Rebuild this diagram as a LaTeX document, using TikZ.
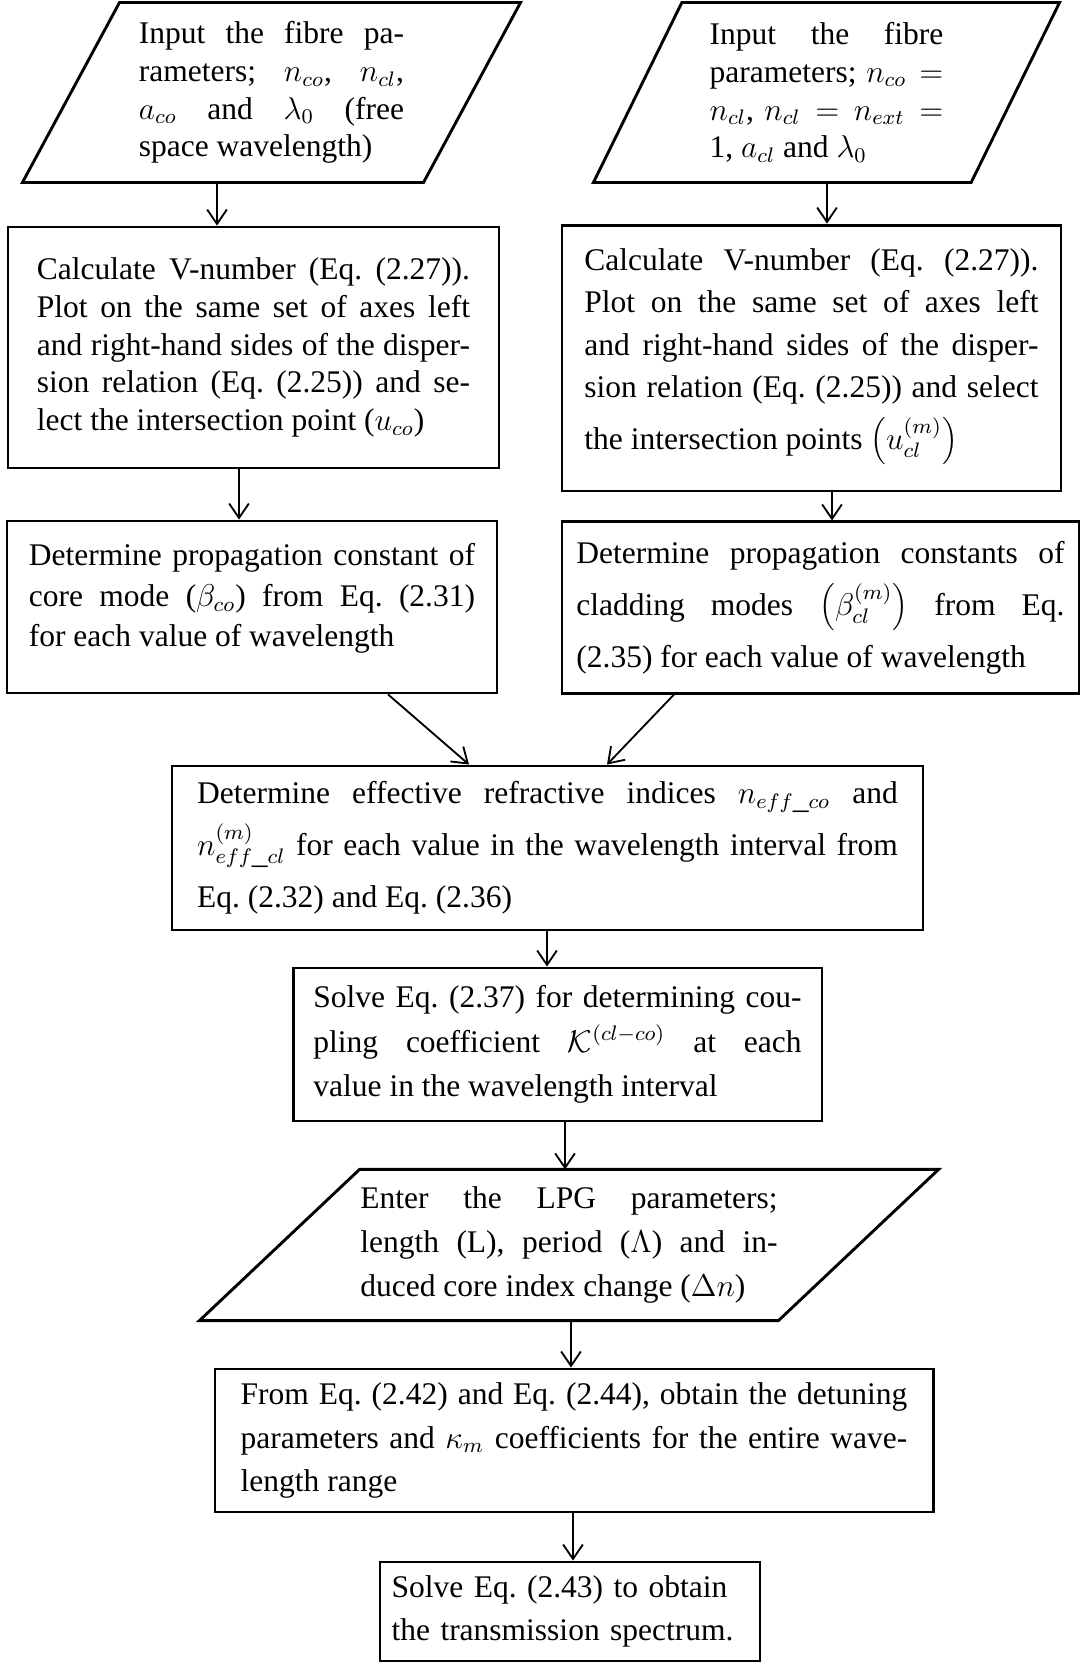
\documentclass[tikz,border=0pt]{standalone}
\usepackage{fontspec}
\setmainfont{Liberation Serif}
\usetikzlibrary{positioning}
\usetikzlibrary{arrows.meta}
\frenchspacing

\begin{document}
\begin{tikzpicture}[
x=0.381pt, y=-0.381pt,
procbox/.style={rectangle, draw=black, line width=1.1pt, align=justify, inner sep=0pt},
iobox/.style={rectangle, draw=none, align=justify, inner sep=0pt},
ioline/.style={draw=black, line width=1.1pt, line join=miter},
lsp/.style={font=\fontsize{12}{#1}\selectfont},
flow/.style={-{Straight Barb[length=5.5pt,width=7.5pt]}, line width=0.7pt},
]
\useasboundingbox (0,0) rectangle (1081,1663);

%Nodes
\node[iobox, text width=101pt, minimum width=189.4pt, minimum height=68.2pt, lsp=14.4pt] (inputcore) at (271.5,92.5) {Input the fibre pa-\linebreak rameters; $n_{co}$, $n_{cl}$,\linebreak $a_{co}$ and $\lambda_0$ (free\linebreak space wavelength)};
\node[iobox, text width=89pt, minimum width=177.2pt, minimum height=68.2pt, lsp=14.4pt] (inputclad) at (826.5,92.5) {Input the fibre\linebreak parameters; $n_{co}=$\linebreak $n_{cl}$, $n_{cl}=n_{ext}=$\linebreak 1, $a_{cl}$ and $\lambda_0$};
\node[procbox, text width=165pt, minimum width=187.1pt, minimum height=91.8pt, lsp=14.4pt] (vnumbercore) at (253.5,347.5) {Calculate V-number (Eq. (2.27)).\linebreak Plot on the same set of axes left\linebreak and right-hand sides of the disper-\linebreak sion relation (Eq. (2.25)) and se-\linebreak lect the intersection point ($u_{co}$)};
\node[procbox, text width=173pt, minimum width=190.1pt, minimum height=101.3pt, lsp=16.2pt] (vnumberclad) at (811.5,358) {Calculate V-number (Eq. (2.27)).\linebreak Plot on the same set of axes left\linebreak and right-hand sides of the disper-\linebreak sion relation (Eq. (2.25)) and select\linebreak the intersection points $\left(u_{cl}^{(m)}\right)$\rule[-7pt]{0pt}{23pt}};
\node[procbox, text width=170pt, minimum width=186.7pt, minimum height=65.5pt, lsp=15.5pt] (betacore) at (252,607) {Determine propagation constant of\linebreak core mode ($\beta_{co}$) from Eq. (2.31)\linebreak for each value of wavelength\rule[-9pt]{0pt}{9pt}};
\node[procbox, text width=186pt, minimum width=197pt, minimum height=65.2pt, lsp=19.8pt] (betaclad) at (820.5,607.5) {Determine propagation constants of\linebreak cladding modes $\left(\beta_{cl}^{(m)}\right)$ from Eq.\linebreak (2.35) for each value of wavelength};
\node[procbox, text width=267pt, minimum width=286.1pt, minimum height=62.5pt, lsp=19.8pt] (effindices) at (547.5,848) {Determine effective refractive indices $n_{eff\_co}$ and\linebreak $n_{eff\_cl}^{(m)}$ for each value in the wavelength interval from\linebreak Eq. (2.32) and Eq. (2.36)};
\node[procbox, text width=186pt, minimum width=201.5pt, minimum height=58.3pt, lsp=17pt] (coupling) at (557.5,1044.5) {Solve Eq. (2.37) for determining cou-\linebreak pling coefficient $\mathcal{K}^{(cl-co)}$ at each\linebreak value in the wavelength interval};
\node[iobox, text width=159pt, minimum width=281.2pt, minimum height=57.2pt, lsp=16.8pt] (lpgparams) at (569,1245) {Enter the LPG parameters;\linebreak length (L), period ($\Lambda$) and in-\linebreak duced core index change ($\Delta n$)};
\node[procbox, text width=254pt, minimum width=273.6pt, minimum height=54.5pt, lsp=16.6pt] (detuning) at (574,1440.5) {From Eq. (2.42) and Eq. (2.44), obtain the detuning\linebreak parameters and $\kappa_m$ coefficients for the entire wave-\linebreak length range};
\node[procbox, align=left, text width=136pt, minimum width=144.8pt, minimum height=37.7pt, lsp=16.2pt] (spectrum) at (570,1611.5) {Solve Eq. (2.43) to obtain\\the transmission spectrum.};

%Outlines of the input boxes
\draw[ioline] ([xshift=37pt]inputcore.north west) -- (inputcore.north east) -- ([xshift=-37pt]inputcore.south east) -- (inputcore.south west) -- cycle;
\draw[ioline] ([xshift=33.7pt]inputclad.north west) -- (inputclad.north east) -- ([xshift=-33.7pt]inputclad.south east) -- (inputclad.south west) -- cycle;
\draw[ioline] ([xshift=61pt]lpgparams.north west) -- (lpgparams.north east) -- ([xshift=-61pt]lpgparams.south east) -- (lpgparams.south west) -- cycle;

%Guides
\coordinate (gcore1) at (217,0);
\coordinate (gclad1) at (827,0);
\coordinate (gcore2) at (239,0);
\coordinate (gclad2) at (832,0);
\coordinate (gcore3) at (388,0);
\coordinate (gcore4) at (469,0);
\coordinate (gclad3) at (674,0);
\coordinate (gclad4) at (607,0);
\coordinate (gmid1) at (547,0);
\coordinate (gmid2) at (565,0);
\coordinate (gmid3) at (571,0);
\coordinate (gmid4) at (573,0);

%Lines
\draw[flow] (inputcore.south -| gcore1) -- (vnumbercore.north -| gcore1);
\draw[flow] (inputclad.south -| gclad1) -- (vnumberclad.north -| gclad1);
\draw[flow] (vnumbercore.south -| gcore2) -- (betacore.north -| gcore2);
\draw[flow] (vnumberclad.south -| gclad2) -- (betaclad.north -| gclad2);
\draw[flow] (betacore.south -| gcore3) -- (effindices.north -| gcore4);
\draw[flow] (betaclad.south -| gclad3) -- (effindices.north -| gclad4);
\draw[flow] (effindices.south -| gmid1) -- (coupling.north -| gmid1);
\draw[flow] (coupling.south -| gmid2) -- (lpgparams.north -| gmid2);
\draw[flow] (lpgparams.south -| gmid3) -- (detuning.north -| gmid3);
\draw[flow] (detuning.south -| gmid4) -- (spectrum.north -| gmid4);

\end{tikzpicture}
\end{document}
